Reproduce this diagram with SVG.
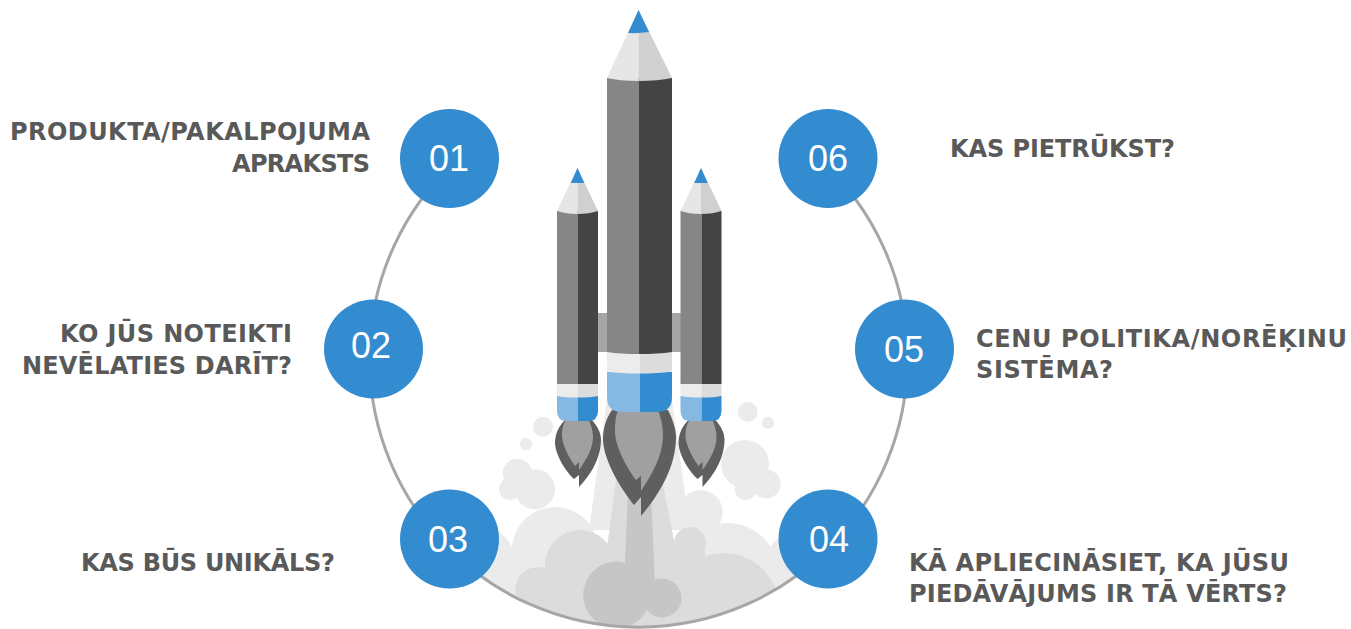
<svg xmlns="http://www.w3.org/2000/svg" xmlns:xlink="http://www.w3.org/1999/xlink" width="1351" height="629" viewBox="0 0 1351 629">
<style>
.lbl{font-family:"DejaVu Sans","Liberation Sans",sans-serif;font-weight:700;font-size:24px;fill:#595959}
.num{font-family:"Liberation Sans",Arial,sans-serif;font-size:36px;fill:#fff;text-anchor:middle}
.end{text-anchor:end}
.node{fill:#338bd0}
.c1{fill:#ebebeb}.c2{fill:#dcdcdc}.c3{fill:#c6c6c6}
.dk{fill:#5f5f5f}.fl{fill:#a0a0a0}
</style>
<defs>
<clipPath id="ringClip"><circle cx="638.5" cy="358" r="269"/></clipPath>
<g id="booster">
<path class="dk" d="M565 420C557 428 555 436 555 444C556 456 566 472 574 479L579 475V487C590 476 601 458 601 440C601 432 597 426 592 420Z"/>
<path class="fl" d="M566 420C562 426 562 432 562 437C563 447 570 459 575 466L579 462V470C586 460 593 449 593 437C593 431 591 425 589 420Z"/>
<path fill="#85b9e3" d="M557 396V411Q557 421 567 421H578V396Z"/>
<path fill="#338bd0" d="M578 396V421H588Q598 421 598 411V396Z"/>
<path fill="#ececec" d="M557 383H578V397.500Q566 397.500 557 396Z"/>
<path fill="#dcdcdc" d="M578 383H598V396Q590 397.500 578 397.500Z"/>
<rect x="557" y="211" width="21" height="173" fill="#868686"/>
<rect x="578" y="211" width="20" height="173" fill="#444"/>
<path fill="#e6e6e6" d="M577.500 168L557 211Q566 214 577.500 214Z"/>
<path fill="#d0d0d0" d="M577.500 168L598 211Q589 214 577.500 214Z"/>
<path fill="#338bd0" d="M577.500 168L570.700 183H584.300Z"/>
</g>
</defs>
<g id="smoke">
<g clip-path="url(#ringClip)">
<path class="c1" d="M607 400L589 530H690L672 400Z"/>
<circle class="c1" cx="555" cy="550" r="43"/>
<circle class="c1" cx="700.700" cy="512" r="22"/>
<circle class="c1" cx="727" cy="575" r="52"/>
<circle class="c1" cx="475" cy="565" r="41"/>
<circle class="c1" cx="800" cy="570" r="38"/>
<rect class="c1" x="470" y="565" width="340" height="70"/>
<path class="c2" d="M616 480L604 570H680L662 480Z"/>
<circle class="c2" cx="580" cy="565" r="35"/>
<circle class="c2" cx="538" cy="590" r="23"/>
<circle class="c2" cx="690" cy="543" r="16"/>
<circle class="c2" cx="724" cy="608" r="55"/>
<rect class="c2" x="516" y="590" width="261" height="45"/>
<rect class="c2" x="545" y="565" width="190" height="40"/>
<rect class="c2" x="660" y="543" width="45" height="30"/>
<path class="c3" d="M628 490L624 585H655L651 490Z"/>
<circle class="c3" cx="616.700" cy="595" r="33.500"/>
<circle class="c3" cx="662" cy="598" r="19.500"/>
</g>
<circle class="c1" cx="543" cy="426.700" r="10"/>
<circle class="c1" cx="526" cy="444" r="6"/>
<circle class="c1" cx="747.700" cy="412" r="10"/>
<circle class="c1" cx="768" cy="422.700" r="6"/>
<circle class="c1" cx="517.300" cy="473.300" r="14.500"/>
<circle class="c1" cx="535" cy="489.300" r="20"/>
<circle class="c1" cx="510" cy="489" r="11"/>
<circle class="c1" cx="745" cy="464" r="24"/>
<circle class="c1" cx="766" cy="484" r="14.600"/>
<circle class="c1" cx="745.700" cy="489" r="11"/>
</g>
<g id="connectors">
<path d="M453.600 162.800A269 269 0 1 0 823.400 162.800" fill="none" stroke="#a6a6a6" stroke-width="3"/>
</g>
<g id="rocket">
<rect x="598" y="313" width="83" height="39" fill="#a6a6a6"/>
<use xlink:href="#booster" href="#booster"/>
<use xlink:href="#booster" href="#booster" x="123.500"/>
<path class="dk" d="M612 410C605 420 603 430 603 440C604 462 622 490 634 505L641 497V516C658 496 676 468 676 437C676 428 672 418 668 410Z"/>
<path class="fl" d="M618 410C615 418 615 426 615 433C616 448 627 468 636 480L641 476V491C652 474 663 456 663 435C663 426 661 418 658 410Z"/>
<path fill="#85b9e3" d="M607 372V397Q607 412 622 412H640V372Z"/>
<path fill="#338bd0" d="M640 372V412H657Q672 412 672 397V372Z"/>
<path fill="#ececec" d="M607 351H640V373.500Q620 373.500 607 371.500Z"/>
<path fill="#dcdcdc" d="M640 351H672V371.500Q658 373.500 640 373.500Z"/>
<path fill="#868686" d="M607 78H639V354Q620 354 607 352Z"/>
<path fill="#444" d="M639 78H672V352Q658 354 639 354Z"/>
<path fill="#e6e6e6" d="M638.500 10L607 78Q620 81 638.500 81Z"/>
<path fill="#d0d0d0" d="M638.500 10L672 78Q658 81 638.500 81Z"/>
<path fill="#338bd0" d="M638.500 10L628 33Q638 33.500 649 32Z"/>
</g>
<g id="node-01"><circle class="node" cx="449.500" cy="158.500" r="49.500"/><text class="num" x="449" y="171">01</text>
<text class="lbl end" x="370" y="140" textLength="360">PRODUKTA/PAKALPOJUMA</text><text class="lbl end" x="370" y="172" textLength="138">APRAKSTS</text></g>
<g id="node-02"><circle class="node" cx="373.500" cy="349" r="49.500"/><text class="num" x="371" y="358">02</text>
<text class="lbl end" x="292" y="342" textLength="232">KO JŪS NOTEIKTI</text><text class="lbl end" x="292" y="374" textLength="270">NEVĒLATIES DARĪT?</text></g>
<g id="node-03"><circle class="node" cx="449.500" cy="539" r="49.500"/><text class="num" x="448" y="552">03</text>
<text class="lbl" x="81" y="571" textLength="254">KAS BŪS UNIKĀLS?</text></g>
<g id="node-04"><circle class="node" cx="828" cy="539" r="49.500"/><text class="num" x="829" y="552">04</text>
<text class="lbl" x="909" y="571" textLength="380">KĀ APLIECINĀSIET, KA JŪSU</text><text class="lbl" x="909" y="602" textLength="378">PIEDĀVĀJUMS IR TĀ VĒRTS?</text></g>
<g id="node-05"><circle class="node" cx="904.500" cy="349" r="49.500"/><text class="num" x="904" y="362">05</text>
<text class="lbl" x="976" y="347" textLength="371">CENU POLITIKA/NORĒĶINU</text><text class="lbl" x="976" y="378" textLength="137">SISTĒMA?</text></g>
<g id="node-06"><circle class="node" cx="828" cy="158.500" r="49.500"/><text class="num" x="828" y="171">06</text>
<text class="lbl" x="950" y="157" textLength="225">KAS PIETRŪKST?</text></g>
</svg>
